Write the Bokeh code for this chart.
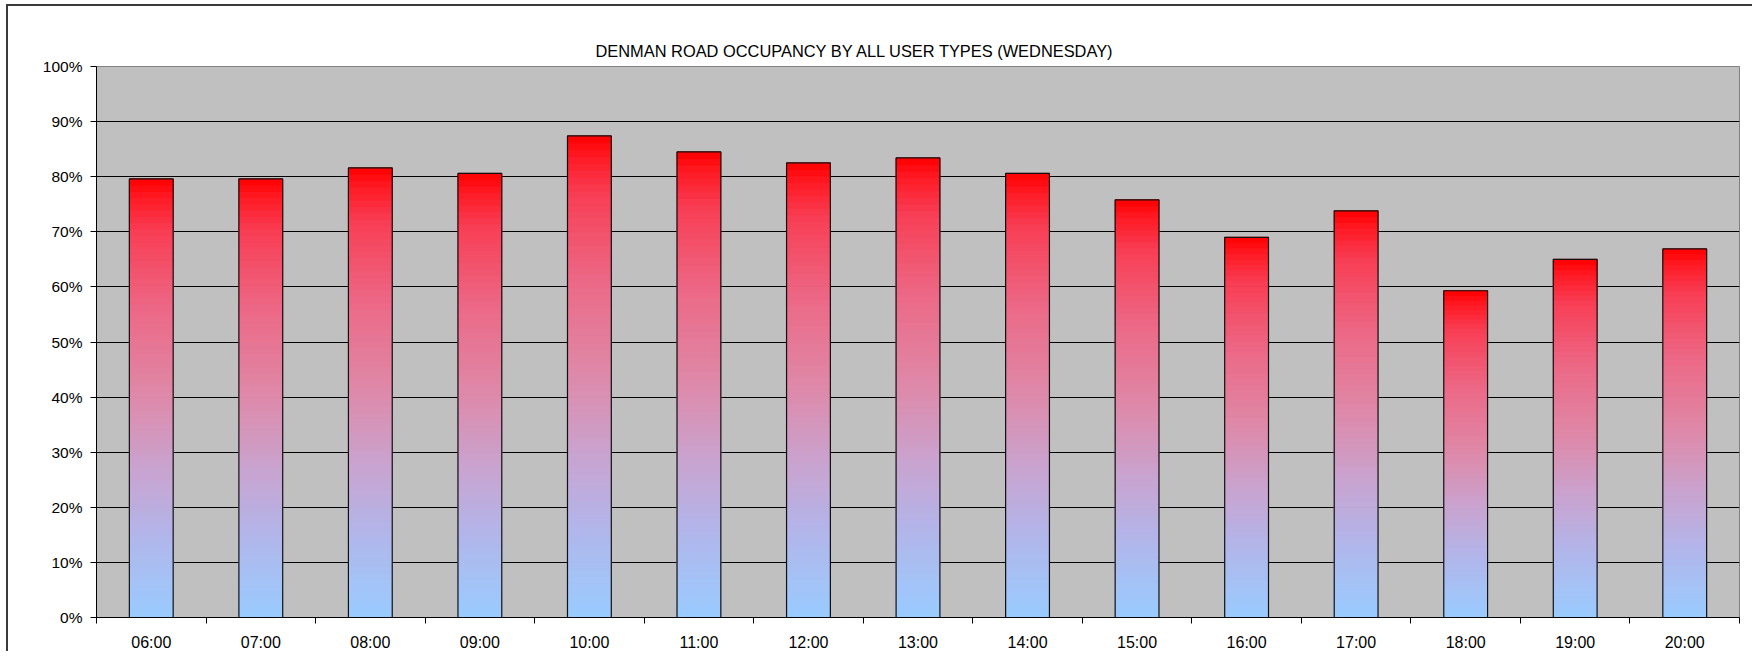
import numpy as np
from bokeh.plotting import figure
from bokeh.models import Range1d, FixedTicker, NumeralTickFormatter
from bokeh.embed import file_html
from bokeh.resources import INLINE

# ---- data ----
hours = ["06:00", "07:00", "08:00", "09:00", "10:00", "11:00", "12:00", "13:00",
         "14:00", "15:00", "16:00", "17:00", "18:00", "19:00", "20:00"]
occupancy = [0.796, 0.796, 0.816, 0.806, 0.874, 0.845, 0.825, 0.834,
             0.806, 0.758, 0.690, 0.738, 0.593, 0.650, 0.669]
y_ticks = [0.0, 0.1, 0.2, 0.3, 0.4, 0.5, 0.6, 0.7, 0.8, 0.9, 1.0]
title_text = "DENMAN ROAD OCCUPANCY BY ALL USER TYPES (WEDNESDAY)"

# ---- styling: gradient stops (fraction from bar top, rgb) ----
stops_pos = [0.0, 0.04, 0.12, 0.30, 0.50, 0.65, 0.80, 1.0]
stops_rgb = [(255, 0, 0), (255, 25, 35), (248, 62, 85), (236, 105, 135),
             (222, 138, 170), (202, 162, 205), (180, 180, 232), (153, 204, 255)]

FONT = "Liberation Sans"
N_SEG = 70
BAR_W = 0.40


def grad_color(f):
    r = np.interp(f, stops_pos, [c[0] for c in stops_rgb])
    g = np.interp(f, stops_pos, [c[1] for c in stops_rgb])
    b = np.interp(f, stops_pos, [c[2] for c in stops_rgb])
    return "#%02x%02x%02x" % (int(round(r)), int(round(g)), int(round(b)))


n = len(hours)
xc = np.arange(n) + 0.5

p = figure(width=1746, height=647, x_range=Range1d(0, n), y_range=Range1d(0, 1),
           output_backend="svg", toolbar_location=None,
           min_border_left=88, min_border_top=60, min_border_right=15, min_border_bottom=36,
           background_fill_color="#C0C0C0", border_fill_color="white",
           title=title_text)
p.styles = {"border-top": "2px solid #3a3a3a", "border-left": "2px solid #3a3a3a",
            "margin-left": "6px", "margin-top": "4px", "padding-right": "8px"}

p.title.align = "left"
p.title.offset = 499
p.title.standoff = 14
p.title.text_font = FONT
p.title.text_font_size = "16.4px"
p.title.text_font_style = "normal"
p.title.text_color = "black"

p.outline_line_color = "#808080"
p.outline_line_width = 1

# grid
p.xgrid.visible = False
p.ygrid.ticker = FixedTicker(ticks=y_ticks[1:-1])
p.ygrid.grid_line_color = "black"
p.ygrid.grid_line_width = 1

# bars with vertical gradient
lefts, rights, bottoms, tops, colors = [], [], [], [], []
for x, v in zip(xc, occupancy):
    for k in range(N_SEG):
        b = v * k / N_SEG
        t = v * (k + 1) / N_SEG
        f = 1.0 - (k + 0.5) / N_SEG
        lefts.append(x - BAR_W / 2)
        rights.append(x + BAR_W / 2)
        bottoms.append(b)
        tops.append(t)
        colors.append(grad_color(f))
p.quad(left=lefts, right=rights, bottom=bottoms, top=tops,
       fill_color=colors, line_color=colors, line_width=1)
p.quad(left=xc - BAR_W / 2, right=xc + BAR_W / 2, bottom=0, top=occupancy,
       fill_color=None, line_color="#111111", line_width=1.2)

# x axis: labels at centers, ticks at boundaries
p.xaxis.ticker = FixedTicker(ticks=list(xc), minor_ticks=list(range(n + 1)))
p.xaxis.major_label_overrides = {float(x): h for x, h in zip(xc, hours)}
p.xaxis.major_tick_out = 0
p.xaxis.major_tick_in = 0
p.xaxis.minor_tick_out = 6
p.xaxis.minor_tick_in = 0
p.xaxis.minor_tick_line_color = "black"
p.xaxis.axis_line_color = "black"
p.xaxis.major_label_standoff = 10
p.xaxis.major_label_text_font = FONT
p.xaxis.major_label_text_font_size = "16px"
p.xaxis.major_label_text_color = "black"

# y axis
p.yaxis.ticker = FixedTicker(ticks=y_ticks)
p.yaxis.formatter = NumeralTickFormatter(format="0%")
p.yaxis.major_tick_out = 6
p.yaxis.major_tick_in = 0
p.yaxis.minor_tick_out = 0
p.yaxis.minor_tick_in = 0
p.yaxis.major_tick_line_color = "black"
p.yaxis.axis_line_color = "black"
p.yaxis.major_label_standoff = 8
p.yaxis.major_label_text_font = FONT
p.yaxis.major_label_text_font_size = "15.5px"
p.yaxis.major_label_text_color = "black"

html = file_html(p, INLINE)
html = html.replace("</head>", "<style>html, body { overflow: hidden; }</style>\n</head>", 1)
open("out.html", "w").write(html)
